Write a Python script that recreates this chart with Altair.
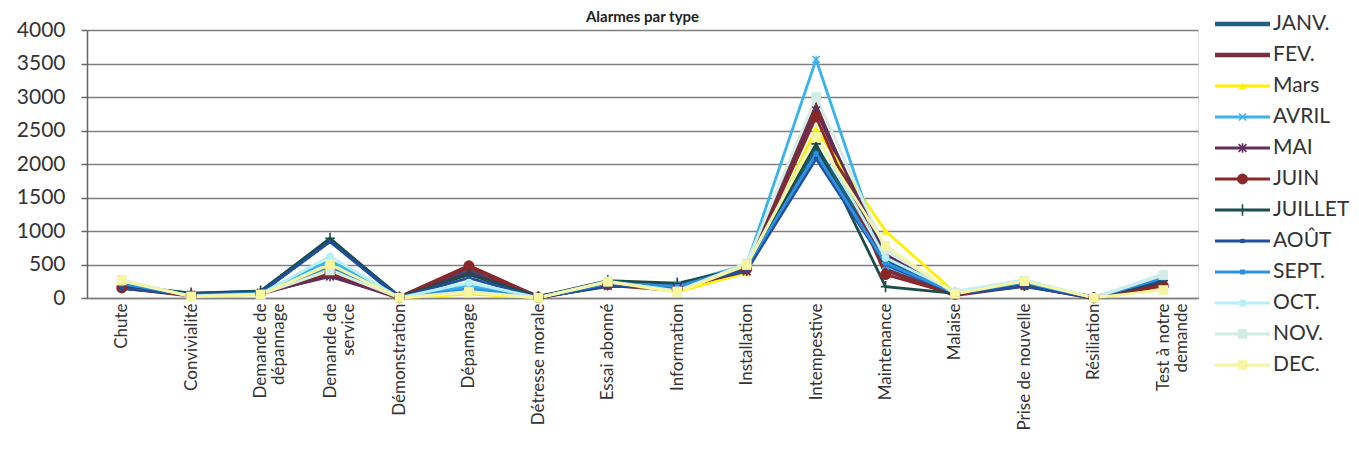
import altair as alt
import pandas as pd

categories = ["Chute", "Convivialité", "Demande de\ndépannage", "Demande de\nservice",
              "Démonstration", "Dépannage", "Détresse morale", "Essai abonné",
              "Information", "Installation", "Intempestive", "Maintenance",
              "Malaise", "Prise de nouvelle", "Résiliation", "Test à notre\ndemande"]

months = ["JANV.", "FEV.", "Mars", "AVRIL", "MAI", "JUIN", "JUILLET", "AOÛT",
          "SEPT.", "OCT.", "NOV.", "DEC."]

janv = [180, 60, 90, 860, 10, 400, 15, 190, 160, 420, 2250, 560, 60, 200, 5, 250]
fev = [160, 40, 70, 350, 5, 470, 10, 200, 120, 440, 2850, 420, 50, 190, 3, 200]
mars = [220, 30, 60, 430, 3, 60, 5, 230, 90, 380, 2520, 1000, 80, 220, 5, 130]
avril = [200, 45, 80, 560, 8, 180, 12, 210, 200, 500, 3560, 480, 90, 240, 8, 330]
mai = [170, 50, 75, 320, 6, 380, 8, 180, 150, 400, 2800, 650, 60, 180, 4, 220]
juin = [150, 35, 65, 380, 4, 480, 6, 200, 130, 430, 2700, 350, 55, 200, 3, 180]
juillet = [190, 70, 100, 890, 12, 350, 20, 260, 220, 460, 2300, 170, 70, 190, 6, 260]
aout = [140, 55, 85, 840, 7, 300, 10, 170, 180, 410, 2080, 500, 65, 170, 5, 280]
sept = [210, 40, 70, 470, 5, 140, 8, 220, 170, 470, 2150, 520, 75, 230, 4, 300]
octo = [250, 30, 60, 620, 5, 230, 5, 240, 110, 500, 2420, 600, 100, 270, 6, 360]
nov = [270, 25, 55, 410, 3, 100, 4, 250, 100, 520, 3000, 720, 80, 260, 3, 340]
dec = [260, 20, 50, 500, 2, 80, 3, 240, 90, 490, 2400, 780, 60, 250, 2, 120]

series_values = [janv, fev, mars, avril, mai, juin, juillet, aout, sept, octo, nov, dec]

colors = ["#1f5f80", "#7a2e3e", "#fff000", "#38b4e8", "#5e2e5e", "#8a2828",
          "#1b4d4a", "#1f50a0", "#2e90e0", "#b8f0fa", "#d4ece6", "#f6f6a0"]
widths = [4.5, 4.5, 2.8, 2.8, 2.8, 2.8, 2.8, 2.8, 2.8, 2.8, 2.8, 2.8]
X_PATH = "M-1,-1L1,1M-1,1L1,-1"
STAR_PATH = "M-1,-1L1,1M-1,1L1,-1M0,-1.2L0,1.2"
PLUS_PATH = "M0,-1.2L0,1.2M-1,0L1,0"
# (shape, filled, size) ; None = no marker
markers = [None, None,
           ("triangle-up", True, 70),
           (X_PATH, False, 50),
           (STAR_PATH, False, 60),
           ("circle", True, 120),
           (PLUS_PATH, False, 90),
           ("square", True, 18),
           ("square", True, 25),
           ("circle", True, 60),
           ("square", True, 90),
           ("square", True, 90)]

rows = []
for m, vals in zip(months, series_values):
    for c, v in zip(categories, vals):
        rows.append({"series": m, "cat": c, "val": v})
df = pd.DataFrame(rows)

FONT = "Lato"

x_enc = alt.X("cat:N", sort=categories, title=None,
              scale=alt.Scale(type="point", padding=0.5),
              axis=alt.Axis(labelAngle=270, labelFontSize=17, labelFont=FONT,
                            labelColor="#333333", labelPadding=5, ticks=False,
                            domainColor="#808080", domainWidth=1.5, grid=False,
                            labelLimit=300, labelLineHeight=18,
                            labelExpr="split(datum.label, '\\n')"))
y_enc = alt.Y("val:Q", title=None,
              scale=alt.Scale(domain=[0, 4000], nice=False),
              axis=alt.Axis(values=list(range(0, 4001, 500)), format="d",
                            labelFontSize=21,
                            labelFont=FONT, labelColor="#333333", labelPadding=16,
                            tickSize=6, tickColor="#666666", tickWidth=1.5,
                            domainColor="#666666", domainWidth=1.5,
                            gridColor="#7f7f7f", gridWidth=1.5))

main_layers = []
for i, m in enumerate(months):
    base = alt.Chart(df).transform_filter(alt.datum.series == m)
    main_layers.append(base.mark_line(color=colors[i], strokeWidth=widths[i])
                       .encode(x=x_enc, y=y_enc))
for i, m in enumerate(months):
    if markers[i] is None:
        continue
    shape, filled, size = markers[i]
    base = alt.Chart(df).transform_filter(alt.datum.series == m)
    main_layers.append(base.mark_point(shape=shape, filled=filled, size=size,
                                       color=colors[i], opacity=1, strokeWidth=1.6)
                       .encode(x=x_enc, y=y_enc))
main = alt.layer(*main_layers)

ldf = pd.DataFrame({"series": months})
lx = alt.Scale(domain=[0, 1], range=[1128, 1183])
ly = alt.Scale(type="point", domain=months, range=[-6, 335], padding=0)
ly_enc = alt.Y("series:N", sort=months, scale=ly, axis=None, title=None)

legend_layers = []
for i, m in enumerate(months):
    base = alt.Chart(ldf).transform_filter(alt.datum.series == m)
    legend_layers.append(base.mark_rule(color=colors[i], strokeWidth=widths[i]).encode(
        x=alt.XDatum(0, type="quantitative", scale=lx, axis=None),
        x2=alt.X2Datum(1), y=ly_enc))
    if markers[i] is not None:
        shape, filled, size = markers[i]
        legend_layers.append(base.mark_point(shape=shape, filled=filled, size=size,
                                             color=colors[i], opacity=1, strokeWidth=1.6)
                             .encode(x=alt.XDatum(0.5, type="quantitative", scale=lx, axis=None),
                                     y=ly_enc))
legend_layers.append(alt.Chart(ldf).mark_text(align="left", baseline="middle", dx=3,
                                              fontSize=21, font=FONT, color="#333333")
                     .encode(x=alt.XDatum(1, type="quantitative", scale=lx, axis=None),
                             y=ly_enc, text="series:N"))
legend = alt.layer(*legend_layers)

chart = alt.layer(main, legend).resolve_scale(x="independent", y="independent").properties(
    width=1111, height=268,
    title=alt.TitleParams("Alarmes par type", fontSize=15, fontWeight="bold", font=FONT,
                          anchor="middle", color="#222222", offset=-12),
    autosize=alt.AutoSizeParams(type="none"),
    padding={"left": 79, "top": 22, "right": 153, "bottom": 152},
).configure_view(stroke=None).configure(background="white")

chart.save("out.html", embed_options={"renderer": "svg", "actions": False})
